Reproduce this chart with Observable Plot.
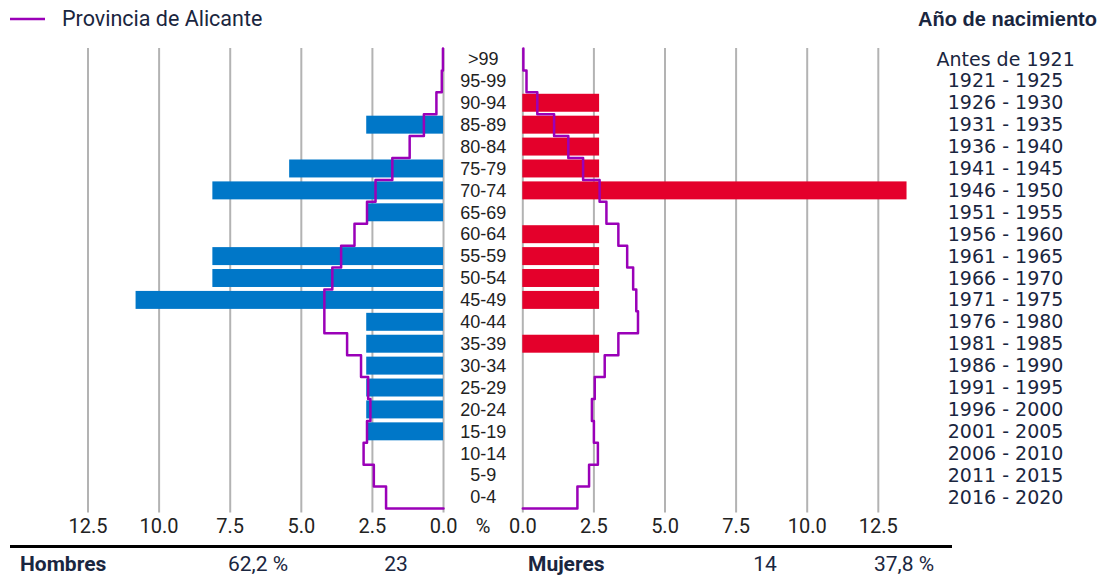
<!DOCTYPE html>
<html><head><meta charset="utf-8">
<script src="https://cdn.jsdelivr.net/npm/d3@7"></script>
<script src="https://cdn.jsdelivr.net/npm/@observablehq/plot@0.6"></script>
<style>
body{margin:0;background:#fff;}
#wrap{position:relative;width:1102px;height:576px;overflow:hidden;font-family:Roboto,sans-serif;}
#legend{position:absolute;left:0;top:0;width:1102px;height:40px;}
#chart{position:absolute;left:0;top:40px;}
.tot{position:absolute;top:551px;font-family:Roboto,sans-serif;font-size:21px;color:#1a2640;line-height:26px;white-space:nowrap;}
#rule{position:absolute;left:10px;width:942px;top:545px;height:3px;background:#000;}
</style></head><body>
<div id="wrap">
  <div id="legend">
    <svg width="60" height="40" style="position:absolute;left:0;top:0"><line x1="10" x2="45" y1="19" y2="19" stroke="#9a00b8" stroke-width="2.5"/></svg>
    <span id="legText" style="position:absolute;left:62px;top:6px;font:21.5px Roboto,sans-serif;line-height:26px;color:#1a2640"></span>
    <span id="yearTitle" style="position:absolute;right:5px;top:6px;font:bold 20px 'Liberation Sans',sans-serif;line-height:26px;color:#1a2640"></span>
  </div>
  <div id="chart"></div>
  <div id="rule"></div>
  <div id="totals"></div>
</div>
<script>
// ---- data (bottom row first) ----
const ageGroups = ["0-4","5-9","10-14","15-19","20-24","25-29","30-34","35-39","40-44","45-49","50-54","55-59","60-64","65-69","70-74","75-79","80-84","85-89","90-94","95-99",">99"];
const birthYears = ["2016 - 2020","2011 - 2015","2006 - 2010","2001 - 2005","1996 - 2000","1991 - 1995","1986 - 1990","1981 - 1985","1976 - 1980","1971 - 1975","1966 - 1970","1961 - 1965","1956 - 1960","1951 - 1955","1946 - 1950","1941 - 1945","1936 - 1940","1931 - 1935","1926 - 1930","1921 - 1925","Antes de 1921"];
const menPct   = [0,0,0,2.7,2.7,2.7,2.7,2.7,2.7,10.81,8.11,8.11,0,2.7,8.11,5.41,0,2.7,0,0,0];
const womenPct = [0,0,0,0,0,0,0,2.7,0,2.7,2.7,2.7,2.7,0,13.51,2.7,2.7,2.7,2.7,0,0];
const provMen   = [2.02,2.45,2.81,2.69,2.57,2.65,2.90,3.39,4.19,4.19,3.91,3.60,3.13,2.69,2.39,1.80,1.19,0.69,0.25,0.06,0.02];
const provWomen = [1.92,2.33,2.64,2.50,2.43,2.53,2.88,3.36,4.05,3.99,3.88,3.67,3.36,2.94,2.70,2.12,1.60,1.10,0.51,0.13,0.02];
const tickValues = [0,2.5,5,7.5,10,12.5];
const legendLabel = "Provincia de Alicante";
const yearTitle = "Año de nacimiento";
const sexLabels = ["Hombres","Mujeres"];
const sexCounts = [23,14];
const sexShares = [62.2,37.8];

// ---- colours ----
const BLUE = "#0077c8", RED = "#e4002b", PURPLE = "#9a00b8", GRID = "#b3b3b3", NAVY = "#1a2640";
const G = 1.394; // half gap between the two halves, in x units

document.getElementById("legText").textContent = legendLabel;
document.getElementById("yearTitle").textContent = yearTitle;

const rows = ageGroups.map((a, i) => ({i, age: a, year: birthYears[i], men: menPct[i], women: womenPct[i]}));

function steps(vals, sign) {
  const pts = [];
  for (let i = vals.length - 1; i >= 0; i--) {
    pts.push({x: sign * (vals[i] + G), y: i + 1});
    pts.push({x: sign * (vals[i] + G), y: i});
  }
  pts.push({x: sign * G, y: 0});
  return pts;
}
const ticks = tickValues.flatMap(v => [{x: -(v + G), v}, {x: v + G, v}]);
const fmt = d3.format(".1f");

const chart = Plot.plot({
  width: 1102, height: 500,
  marginLeft: 0, marginRight: 0, marginTop: 8, marginBottom: 32,
  x: {domain: [-16.971, 21.777], axis: null},
  y: {domain: [0, 21], axis: null},
  style: {background: "transparent", overflow: "visible"},
  marks: [
    Plot.ruleX(ticks, {x: "x", y1: -0.2, y2: 21, stroke: GRID, strokeWidth: 2}),
    Plot.rect(rows, {x1: -G, x2: d => -(d.men + G), y1: d => d.i + 0.09, y2: d => d.i + 0.91, fill: BLUE}),
    Plot.rect(rows, {x1: G, x2: d => d.women + G, y1: d => d.i + 0.09, y2: d => d.i + 0.91, fill: RED}),
    Plot.line(steps(provMen, -1), {x: "x", y: "y", stroke: PURPLE, strokeWidth: 2.5}),
    Plot.line(steps(provWomen, 1), {x: "x", y: "y", stroke: PURPLE, strokeWidth: 2.5}),
    Plot.text(rows, {x: 0, y: d => d.i + 0.5, text: "age", fontFamily: "Liberation Sans", fontSize: 18, fill: "#222", textAnchor: "middle"}),
    Plot.text(rows, {x: 18.37, y: d => d.i + 0.5, text: "year", fontFamily: "DejaVu Sans", fontSize: 19, fill: NAVY, textAnchor: "middle"}),
    Plot.text(ticks, {x: "x", y: -0.82, text: d => fmt(d.v), fontFamily: "Roboto", fontSize: 20, fill: "#222"}),
    Plot.text(["%"], {x: 0, y: -0.82, text: d => d, fontFamily: "Roboto", fontSize: 20, fill: "#222"})
  ]
});
document.getElementById("chart").appendChild(chart);

// ---- totals row ----
const tot = document.getElementById("totals");
const share = v => d3.format(".1f")(v).replace(".", ",") + " %";
const items = [
  {t: sexLabels[0], x: 20, anchor: "left", bold: true},
  {t: share(sexShares[0]), x: 258, anchor: "center"},
  {t: String(sexCounts[0]), x: 396, anchor: "center"},
  {t: sexLabels[1], x: 528, anchor: "left", bold: true},
  {t: String(sexCounts[1]), x: 765, anchor: "center"},
  {t: share(sexShares[1]), x: 904, anchor: "center"}
];
for (const it of items) {
  const s = document.createElement("span");
  s.className = "tot";
  s.textContent = it.t;
  if (it.bold) s.style.fontWeight = "bold";
  s.style.left = it.x + "px";
  if (it.anchor === "center") s.style.transform = "translateX(-50%)";
  tot.appendChild(s);
}
</script>
</body></html>
